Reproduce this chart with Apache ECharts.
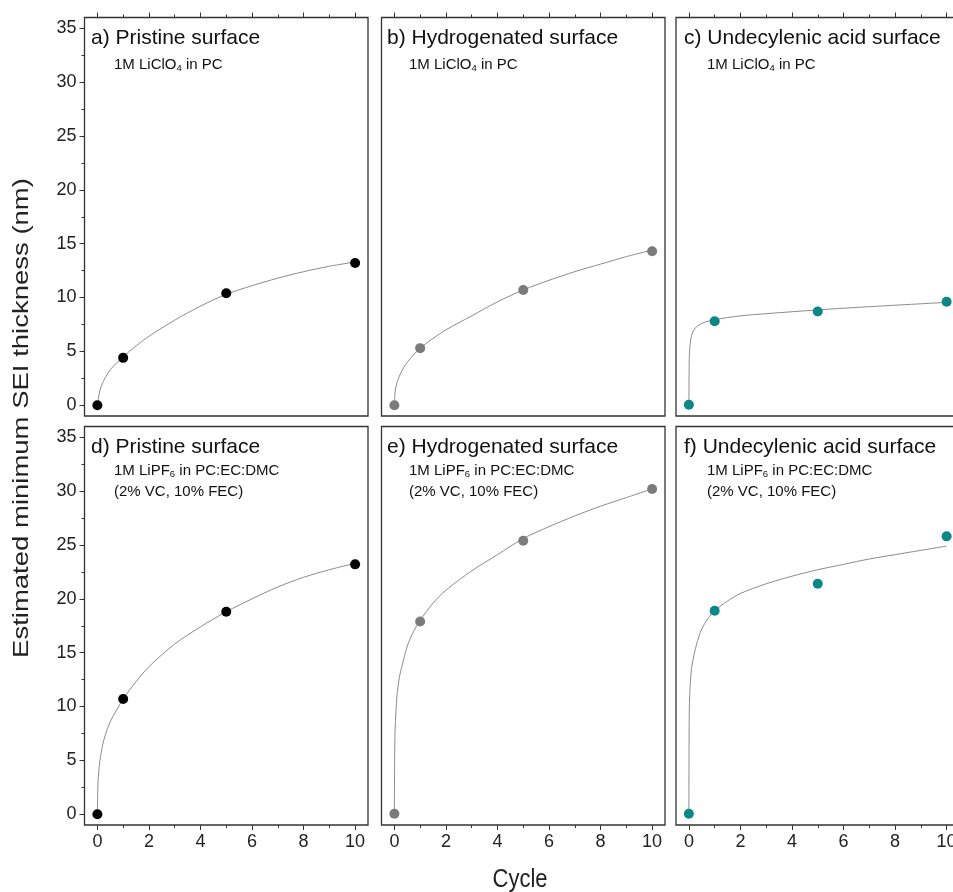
<!DOCTYPE html>
<html>
<head>
<meta charset="utf-8">
<script src="https://cdn.jsdelivr.net/npm/echarts@6/dist/echarts.min.js"></script>
<style>html,body{margin:0;padding:0;background:#fff;overflow:hidden;}#c{width:965px;height:892px;}</style>
</head>
<body>
<div id="c"></div>
<script>
// ---- data ----
const cycles = [0, 1, 5, 10];
const sei_a = [0, 4.4, 10.4, 13.2];
const sei_b = [0, 5.3, 10.7, 14.3];
const sei_c = [0.05, 7.8, 8.7, 9.6];
const sei_d = [0, 10.7, 18.8, 23.2];
const sei_e = [0.05, 17.9, 25.4, 30.2];
const sei_f = [0.05, 18.9, 21.4, 25.8];

// fitted curves
const fitX_a = [0, 0.1, 0.25, 0.5, 1, 1.5, 2, 3, 4, 5, 6, 7, 8, 9, 10];
const fitY_a = [0, 1.4, 2.3, 3.3, 4.5, 5.5, 6.4, 7.9, 9.2, 10.3, 11.1, 11.8, 12.4, 12.9, 13.3];
const fitX_b = [0, 0.03, 0.1, 0.25, 0.5, 1, 1.5, 2, 3, 4, 5, 6, 7, 8, 9, 10];
const fitY_b = [0, 1.3, 2.1, 3.0, 4.0, 5.3, 6.2, 7.0, 8.3, 9.6, 10.7, 11.6, 12.4, 13.1, 13.8, 14.4];
const fitX_c = [0, 0.01, 0.03, 0.08, 0.15, 0.3, 0.5, 0.75, 1, 2, 3, 5, 7, 10];
const fitY_c = [0, 3.5, 5.2, 6.2, 6.8, 7.3, 7.6, 7.8, 7.95, 8.3, 8.5, 8.85, 9.15, 9.55];
const fitX_d = [0, 0.02, 0.05, 0.1, 0.2, 0.3, 0.5, 0.75, 1, 1.5, 2, 3, 4, 5, 6, 7, 8, 9, 10];
const fitY_d = [0, 2.8, 3.9, 5.0, 6.4, 7.3, 8.6, 9.7, 10.7, 12.3, 13.7, 15.8, 17.4, 18.8, 20.0, 21.1, 22.0, 22.7, 23.3];
const fitX_e = [0, 0.01, 0.03, 0.1, 0.2, 0.3, 0.5, 0.75, 1, 1.5, 2, 3, 4, 5, 6, 7, 8, 9, 10];
const fitY_e = [0, 5, 8, 11, 12.8, 13.8, 15.6, 17, 18, 19.6, 20.8, 22.6, 24.1, 25.6, 26.7, 27.7, 28.6, 29.4, 30.2];
const fitX_f = [0, 0.01, 0.03, 0.1, 0.2, 0.3, 0.5, 0.75, 1, 1.5, 2, 3, 4, 5, 6, 7, 8, 9, 10];
const fitY_f = [0, 8, 11, 13.5, 14.8, 15.8, 17.2, 18.2, 18.9, 19.8, 20.5, 21.4, 22.1, 22.7, 23.2, 23.7, 24.1, 24.5, 24.9];

// tick labels
const xMajorTicks = [0, 2, 4, 6, 8, 10];
const xMinorTicks = [1, 3, 5, 7, 9];
const yMajorTicks = [0, 5, 10, 15, 20, 25, 30, 35];
const yMinorTicks = [2.5, 7.5, 12.5, 17.5, 22.5, 27.5, 32.5];

const panelTitles = ['a) Pristine surface', 'b) Hydrogenated surface', 'c) Undecylenic acid surface',
                     'd) Pristine surface', 'e) Hydrogenated surface', 'f) Undecylenic acid surface'];
const subTop = '1M LiClO{s|4} in PC';
const subBottom1 = '1M LiPF{s|6} in PC:EC:DMC';
const subBottom2 = '(2% VC, 10% FEC)';
const xTitle = 'Cycle';
const yTitle = 'Estimated minimum SEI thickness (nm)';

// ---- layout ----
const FONT = 'Liberation Sans, Arial, sans-serif';
const lefts = [84.5, 381.5, 676];
const tops = [17.5, 426.5];
const W = 283.5, H = 398.5;
const pointColors = ['#000000', '#7b7b7b', '#0b8785'];
const scatterData = [sei_a, sei_b, sei_c, sei_d, sei_e, sei_f];
const fits = [[fitX_a, fitY_a], [fitX_b, fitY_b], [fitX_c, fitY_c], [fitX_d, fitY_d], [fitX_e, fitY_e], [fitX_f, fitY_f]];

const grid = [], xAxis = [], yAxis = [], series = [], title = [];
const subRich = {s: {fontSize: 9.5, color: '#111', fontFamily: FONT, padding: [7, 0, 0, 0]}};
for (let i = 0; i < 6; i++) {
  const row = Math.floor(i / 3), col = i % 3;
  grid.push({left: lefts[col], top: tops[row], width: W, height: H, show: true,
             borderColor: '#333', borderWidth: 1.3, backgroundColor: 'transparent', containLabel: false});
  const pos = row === 0 ? 'top' : 'bottom';
  xAxis.push({gridIndex: i, type: 'value', min: -0.5, max: 10.5, position: pos,
    axisLine: {show: false, onZero: false}, splitLine: {show: false},
    axisTick: {show: true, inside: false, customValues: xMajorTicks, length: 5, lineStyle: {color: '#333', width: 1}},
    axisLabel: {show: row === 1, customValues: xMajorTicks, margin: 8, fontSize: 18, color: '#222', fontFamily: FONT}});
  xAxis.push({gridIndex: i, type: 'value', min: -0.5, max: 10.5, position: pos,
    axisLine: {show: false, onZero: false}, splitLine: {show: false},
    axisTick: {show: true, inside: false, customValues: xMinorTicks, length: 3, lineStyle: {color: '#333', width: 1}},
    axisLabel: {show: false}});
  const leftCol = col === 0;
  yAxis.push({gridIndex: i, type: 'value', min: -1, max: 36, position: 'left',
    axisLine: {show: false, onZero: false}, splitLine: {show: false},
    axisTick: {show: leftCol, inside: false, customValues: yMajorTicks, length: 5, lineStyle: {color: '#333', width: 1}},
    axisLabel: {show: leftCol, customValues: yMajorTicks, margin: 8, fontSize: 18, color: '#222', fontFamily: FONT}});
  yAxis.push({gridIndex: i, type: 'value', min: -1, max: 36, position: 'left',
    axisLine: {show: false, onZero: false}, splitLine: {show: false},
    axisTick: {show: leftCol, inside: false, customValues: yMinorTicks, length: 3, lineStyle: {color: '#333', width: 1}},
    axisLabel: {show: false}});

  const fx = fits[i][0], fy = fits[i][1];
  series.push({type: 'line', xAxisIndex: 2 * i, yAxisIndex: 2 * i,
    data: fx.map((x, k) => [x, fy[k]]), showSymbol: false, smooth: 0.3,
    lineStyle: {color: '#8c8c8c', width: 1}, z: 2, silent: true});
  series.push({type: 'scatter', xAxisIndex: 2 * i, yAxisIndex: 2 * i,
    data: cycles.map((x, k) => [x, scatterData[i][k]]), symbolSize: 10,
    itemStyle: {color: pointColors[col], opacity: 1}, z: 3});

  const tl = [91, 387, 684][col];
  const sl = [114, 409, 707][col];
  title.push({text: panelTitles[i], left: tl, top: tops[row] + 10.5,
    textStyle: {fontSize: 21, fontWeight: 'normal', color: '#111', fontFamily: FONT}, padding: 0});
  if (row === 0) {
    title.push({text: subTop, left: sl, top: tops[row] + 39,
      textStyle: {fontSize: 15, fontWeight: 'normal', color: '#111', fontFamily: FONT, rich: subRich}, padding: 0});
  } else {
    title.push({text: subBottom1, left: sl, top: tops[row] + 36,
      textStyle: {fontSize: 15, fontWeight: 'normal', color: '#111', fontFamily: FONT, rich: subRich}, padding: 0});
    title.push({text: subBottom2, left: sl, top: tops[row] + 58,
      textStyle: {fontSize: 15, fontWeight: 'normal', color: '#111', fontFamily: FONT}, padding: 0});
  }
}

const chart = echarts.init(document.getElementById('c'), null, {renderer: 'canvas'});
chart.setOption({
  animation: false,
  backgroundColor: '#fff',
  title: title,
  grid: grid, xAxis: xAxis, yAxis: yAxis, series: series,
  graphic: [
    {type: 'text', x: 520, y: 880, scaleY: 1.15, style: {text: xTitle, font: '22px ' + FONT, fill: '#222',
      textAlign: 'center', textVerticalAlign: 'middle'}},
    {type: 'text', x: 22, y: 418, rotation: Math.PI / 2, scaleX: 1.25, style: {text: yTitle, font: '22px ' + FONT, fill: '#222',
      textAlign: 'center', textVerticalAlign: 'middle'}}
  ]
});
</script>
</body>
</html>
